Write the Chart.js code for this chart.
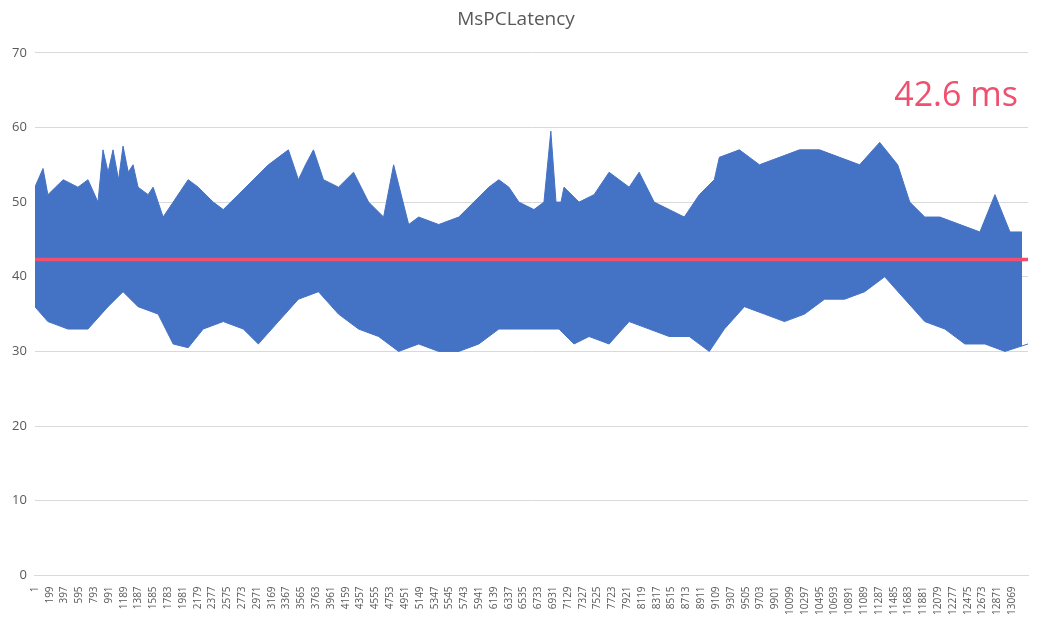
<!DOCTYPE html>
<html>
<head>
<meta charset="utf-8">
<script src="https://cdn.jsdelivr.net/npm/chart.js@4.4.0/dist/chart.umd.min.js"></script>
<style>
  html, body { margin: 0; padding: 0; background: #fff; }
  #wrap { width: 1040px; height: 618px; }
</style>
</head>
<body>
<div id="wrap"><canvas id="chart"></canvas></div>
<script>
// Sample index ticks on the category axis
const tickLabels = [1,199,397,595,793,991,1189,1387,1585,1783,1981,2179,2377,2575,2773,2971,3169,3367,3565,3763,3961,4159,4357,4555,4753,4951,5149,5347,5545,5743,5941,6139,6337,6535,6733,6931,7129,7327,7525,7723,7921,8119,8317,8515,8713,8911,9109,9307,9505,9703,9901,10099,10297,10495,10693,10891,11089,11287,11485,11683,11881,12079,12277,12475,12673,12871,13069];

// Upper envelope of the latency trace (sample index, ms)
const upperX = [1,110,175,380,577,711,845,912,980,1046,1120,1180,1250,1314,1381,1515,1582,1716,1850,2051,2185,2386,2520,2721,2922,3123,3391,3525,3620,3726,3860,4061,4262,4463,4664,4798,4999,5133,5401,5669,5870,6071,6205,6339,6473,6674,6808,6900,6969,7036,7076,7277,7478,7679,7947,8081,8282,8483,8684,8885,9086,9153,9421,9689,9957,10225,10493,10761,11029,11297,11538,11699,11900,12101,12369,12637,12838,13039,13200,13280];
const upperY = [52,54.5,51,53,52,53,50,57,54,57,53,57.5,54,55,52,51,52,48,50,53,52,50,49,51,53,55,57,53,55,57,53,52,54,50,48,55,47,48,47,48,50,52,53,52,50,49,50,59.5,50,50,52,50,51,54,52,54,50,49,48,51,53,56,57,55,56,57,57,56,55,58,55,50,48,48,47,46,51,46,46];

// Lower envelope of the latency trace (sample index, ms)
const lowerX = [1,175,443,711,979,1180,1381,1649,1850,2051,2252,2520,2788,2989,3257,3525,3793,4061,4329,4597,4865,5133,5401,5669,5937,6205,6473,6741,7009,7210,7411,7679,7947,8215,8483,8751,9019,9220,9488,9756,10024,10292,10560,10828,11096,11364,11632,11900,12168,12436,12704,12972,13280];
const lowerY = [36,34,33,33,36,38,36,35,31,30.5,33,34,33,31,34,37,38,35,33,32,30,31,30,30,31,33,33,33,33,31,32,31,34,33,32,32,30,33,36,35,34,35,37,37,38,40,37,34,33,31,31,30,31];

// Average latency line
const averageMs = 42.3;
const averageLabel = '42.6 ms';

const upperPoints = upperX.map((x, i) => ({ x: x, y: upperY[i] }));
const lowerPoints = lowerX.map((x, i) => ({ x: x, y: lowerY[i] }));
const avgPoints = [{ x: 1, y: averageMs }, { x: 13280, y: averageMs }];

const avgLabelPlugin = {
  id: 'avgLabel',
  afterDraw(chart) {
    const c = chart.ctx;
    c.save();
    c.font = '34px "Open Sans", "Noto Sans", sans-serif';
    c.fillStyle = '#f0506e';
    c.textAlign = 'right';
    c.textBaseline = 'middle';
    c.fillText(averageLabel, chart.chartArea.right - 10, 96);
    c.restore();
  }
};

new Chart(document.getElementById('chart'), {
  type: 'line',
  data: {
    datasets: [
      {
        label: 'upper',
        data: upperPoints,
        borderColor: '#4472c4',
        borderWidth: 1,
        pointRadius: 0,
        tension: 0,
        fill: false,
        order: 2
      },
      {
        label: 'lower',
        data: lowerPoints,
        borderColor: '#4472c4',
        backgroundColor: '#4472c4',
        borderWidth: 1,
        pointRadius: 0,
        tension: 0,
        fill: '-1',
        order: 1
      },
      {
        label: 'average',
        data: avgPoints,
        borderColor: '#f0506e',
        borderWidth: 3.5,
        pointRadius: 0,
        fill: false,
        order: 0
      }
    ]
  },
  options: {
    responsive: true,
    maintainAspectRatio: false,
    animation: false,
    layout: { padding: { left: 4, right: 12, top: 4, bottom: 0 } },
    plugins: {
      legend: { display: false },
      tooltip: { enabled: false },
      title: {
        display: true,
        text: 'MsPCLatency',
        color: '#595959',
        font: { family: '"Open Sans", "Noto Sans", sans-serif', size: 19, weight: 'normal' },
        padding: { top: 4, bottom: 22 }
      }
    },
    scales: {
      x: {
        type: 'linear',
        min: 1,
        max: 13280,
        afterBuildTicks(axis) {
          axis.ticks = tickLabels.map(v => ({ value: v }));
        },
        grid: { display: false, drawTicks: true, tickColor: '#d9d9d9' },
        border: { color: '#d9d9d9' },
        ticks: {
          autoSkip: false,
          maxRotation: 90,
          minRotation: 90,
          color: '#595959',
          font: { family: '"Open Sans", "Noto Sans", sans-serif', size: 10 },
          callback: v => String(v)
        }
      },
      y: {
        min: 0,
        max: 70,
        ticks: {
          stepSize: 10,
          color: '#595959',
          font: { family: '"Open Sans", "Noto Sans", sans-serif', size: 13 },
          padding: 8
        },
        grid: { color: '#d9d9d9', drawTicks: false },
        border: { display: false }
      }
    }
  },
  plugins: [avgLabelPlugin]
});
</script>
</body>
</html>
